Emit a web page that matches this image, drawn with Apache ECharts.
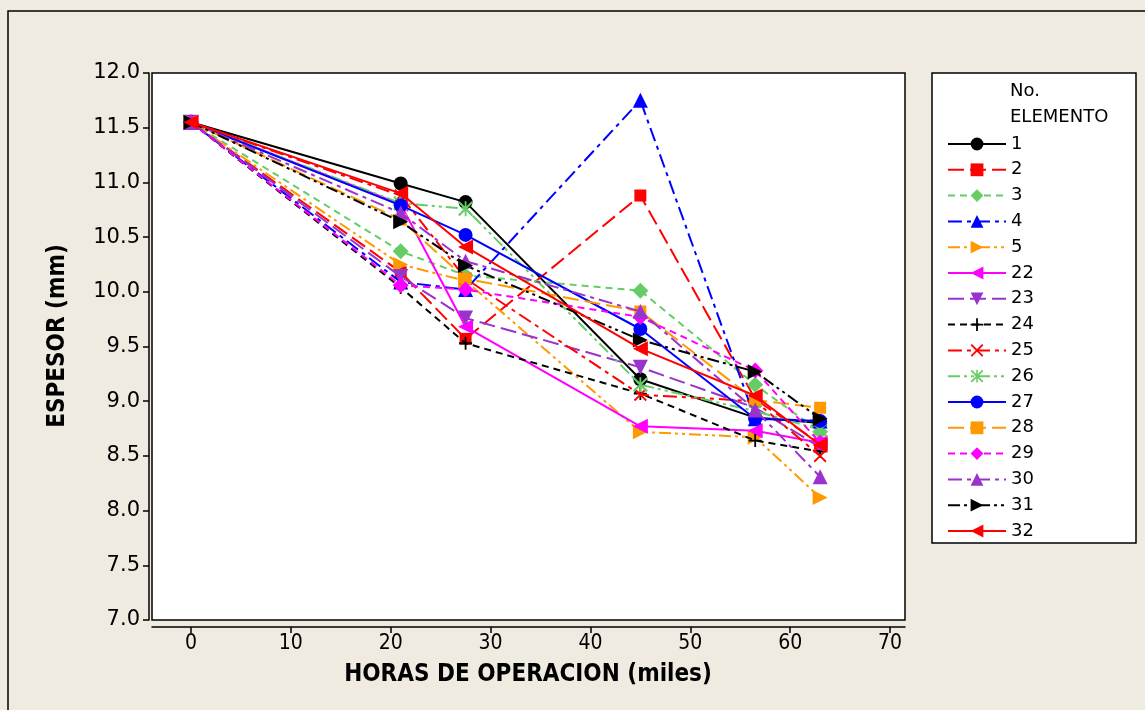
<!DOCTYPE html>
<html>
<head>
<meta charset="utf-8">
<title>ESPESOR vs HORAS DE OPERACION</title>
<script src="https://cdn.jsdelivr.net/npm/echarts@6/dist/echarts.min.js"></script>
<style>
  html, body { margin: 0; padding: 0; background: #EFEBE1; }
  #main { width: 1145px; height: 710px; }
</style>
</head>
<body>
<div id="main"></div>
<script>
// horas de operacion (miles)
var hours = [0, 21, 27.5, 45, 56.5, 63];
var xTicks = [0, 10, 20, 30, 40, 50, 60, 70];

// espesor (mm) por elemento
var e1  = [11.55, 10.99, 10.82, 9.20, 8.85, 8.80];
var e2  = [11.55, 10.18, 9.57, 10.88, 9.02, 8.61];
var e3  = [11.55, 10.37, 10.15, 10.01, 9.15, 8.72];
var e4  = [11.55, 10.09, 10.02, 11.75, 8.84, 8.82];
var e5  = [11.55, 10.25, 10.10, 8.72, 8.67, 8.12];
var e22 = [11.55, 10.80, 9.68, 8.77, 8.73, 8.62];
var e23 = [11.55, 10.14, 9.76, 9.31, 8.94, 8.58];
var e24 = [11.55, 10.04, 9.53, 9.07, 8.64, 8.54];
var e25 = [11.55, 10.88, 10.12, 9.06, 9.00, 8.50];
var e26 = [11.55, 10.81, 10.76, 9.15, 8.91, 8.74];
var e27 = [11.55, 10.79, 10.52, 9.66, 8.84, 8.82];
var e28 = [11.55, 10.66, 10.12, 9.82, 9.01, 8.94];
var e29 = [11.55, 10.06, 10.02, 9.77, 9.28, 8.62];
var e30 = [11.55, 10.72, 10.28, 9.82, 8.92, 8.31];
var e31 = [11.55, 10.64, 10.24, 9.56, 9.27, 8.84];
var e32 = [11.55, 10.90, 10.41, 9.48, 9.05, 8.60];

var names = ['1', '2', '3', '4', '5', '22', '23', '24', '25', '26', '27', '28', '29', '30', '31', '32'];
var values = [e1, e2, e3, e4, e5, e22, e23, e24, e25, e26, e27, e28, e29, e30, e31, e32];

// estilo tipo Minitab: colores, simbolos y lineas se repiten en ciclo
var colors = ['#000000', '#FF0000', '#66CC66', '#0000FF', '#FF9900', '#FF00FF', '#9933CC'];
var dashes = ['solid', [16, 6], [7, 5], [14, 5, 4, 5], [12, 4, 3, 4, 3, 4]];
var symbols = [
  {s: 'circle', size: 14},
  {s: 'rect', size: 12},
  {s: 'diamond', size: 16},
  {s: 'triangle', size: 15},
  {s: 'path://M0,0L10,5L0,10Z', size: 15},          // triangulo derecha
  {s: 'path://M10,0L0,5L10,10Z', size: 15},         // triangulo izquierda
  {s: 'path://M0,0L10,0L5,10Z', size: 15},          // triangulo abajo
  {s: 'path://M4.3,0H5.7V4.3H10V5.7H5.7V10H4.3V5.7H0V4.3H4.3Z', size: 13}, // cruz +
  {s: 'path://M0,1L1,0L5,4L9,0L10,1L6,5L10,9L9,10L5,6L1,10L0,9L4,5Z', size: 13}, // x
  {s: 'path://M0,1L1,0L5,4L9,0L10,1L6,5L10,9L9,10L5,6L1,10L0,9L4,5ZM4.4,0H5.6V10H4.4Z', size: 15} // asterisco
];

var series = [];
for (var i = 0; i < names.length; i++) {
  var pts = [];
  for (var j = 0; j < hours.length; j++) {
    pts.push([hours[j], values[i][j]]);
  }
  var sym = symbols[i % symbols.length];
  series.push({
    name: names[i],
    type: 'line',
    data: pts,
    symbol: sym.s,
    symbolSize: sym.size,
    showAllSymbol: true,
    color: colors[i % colors.length],
    lineStyle: {
      width: 2,
      type: dashes[i % dashes.length]
    },
    itemStyle: { color: colors[i % colors.length] },
    emphasis: { disabled: true },
    z: 2 + i
  });
}

var titleFont = 'bold 24px "DejaVu Sans Condensed", "DejaVu Sans", sans-serif';

var chart = echarts.init(document.getElementById('main'));
var option = {
  animation: false,
  backgroundColor: '#EFEBE1',
  textStyle: { fontFamily: '"DejaVu Sans", sans-serif' },
  grid: {
    left: 152,
    right: 240,
    top: 73,
    bottom: 90,
    show: true,
    backgroundColor: '#FFFFFF',
    borderColor: '#000000',
    borderWidth: 1.5
  },
  xAxis: {
    type: 'value',
    min: -3.9,
    max: 71.5,
    offset: 7,
    splitLine: { show: false },
    axisLine: { onZero: false, lineStyle: { color: '#000', width: 1.5 } },
    axisTick: { customValues: xTicks, length: 6, lineStyle: { color: '#000', width: 1.5 } },
    axisLabel: {
      customValues: xTicks,
      color: '#000',
      fontSize: 21,
      fontFamily: '"DejaVu Sans Condensed", "DejaVu Sans", sans-serif',
      margin: 6
    }
  },
  yAxis: {
    type: 'value',
    min: 7,
    max: 12,
    interval: 0.5,
    offset: 3,
    splitLine: { show: false },
    axisLine: { show: true, onZero: false, lineStyle: { color: '#000', width: 1.5 } },
    axisTick: { show: true, length: 6, lineStyle: { color: '#000', width: 1.5 } },
    axisLabel: {
      color: '#000',
      fontSize: 21,
      margin: 9,
      formatter: function (v) { return v.toFixed(1); }
    }
  },
  legend: {
    orient: 'vertical',
    left: 942,
    top: 130,
    itemWidth: 58,
    itemHeight: 16,
    itemGap: 7.8,
    data: names,
    textStyle: { color: '#000', fontSize: 18 },
    selectedMode: false
  },
  graphic: [
    // marco exterior
    {
      type: 'rect', silent: true, z: -10,
      shape: { x: 8, y: 11, width: 1200, height: 800 },
      style: { fill: 'none', stroke: '#000', lineWidth: 1.5 }
    },
    // caja de la leyenda
    {
      type: 'rect', silent: true, z: -5,
      shape: { x: 932, y: 73, width: 204, height: 470 },
      style: { fill: '#FFFFFF', stroke: '#000', lineWidth: 1.5 }
    },
    {
      type: 'text', x: 1010, y: 78,
      style: { text: 'No.\nELEMENTO', fill: '#000', font: '18px "DejaVu Sans", sans-serif', lineHeight: 26 }
    },
    // titulos de ejes
    {
      type: 'text', x: 528, y: 675,
      style: { text: 'HORAS DE OPERACION (miles)', fill: '#000', font: titleFont, align: 'center', verticalAlign: 'middle' }
    },
    {
      type: 'text', x: 58, y: 336, rotation: Math.PI / 2,
      style: { text: 'ESPESOR (mm)', fill: '#000', font: titleFont, align: 'center', verticalAlign: 'middle' }
    }
  ],
  series: series
};
chart.setOption(option);
</script>
</body>
</html>
